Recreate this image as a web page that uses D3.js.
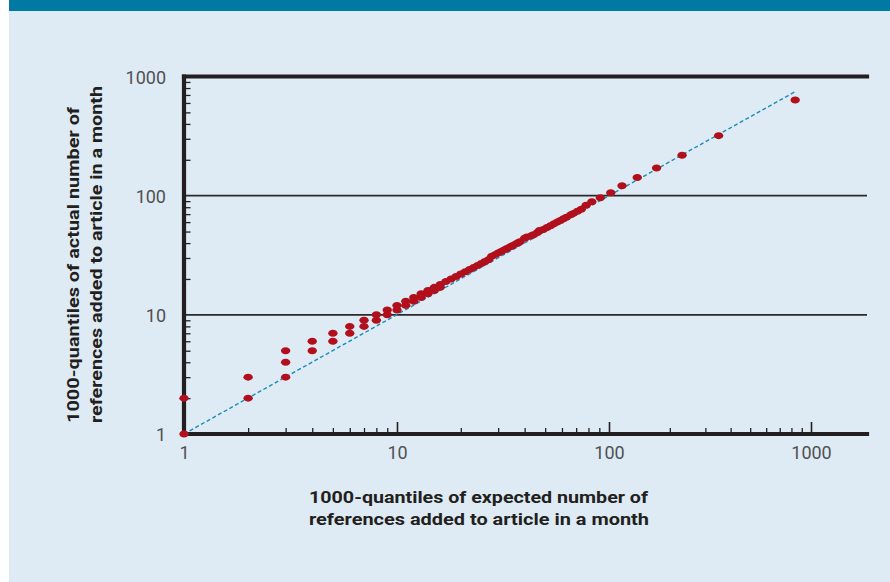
<!DOCTYPE html>
<html lang="en">
<head>
<meta charset="UTF-8">
<title>Quantile plot of references added</title>
<style>
    body { margin: 0; background: #ffffff; }
    svg { display: block; }
    .tick-label { font-family: Roboto, "Liberation Sans", sans-serif; font-weight: 400; font-size: 18px; fill: #505052; }
    .axis-title { font-family: Roboto, "Liberation Sans", sans-serif; font-weight: 700; font-size: 17px; fill: #231f20; }
</style>
</head>
<body>
<svg id="chart" width="890" height="582"></svg>

<script src="https://d3js.org/d3.v7.min.js"></script>
<script>
    // data: expected (x) vs actual (y) quantiles
    const expectedQ = [1, 1, 2, 2, 3, 3, 3, 4, 4, 5, 5, 6, 6, 7, 7, 8, 8, 9, 9, 10, 10,
        11, 11, 12, 12, 13, 13, 14, 14, 15, 15, 16, 16, 17, 18, 19, 20, 21, 22, 23, 24,
        25, 26, 27, 28, 29, 30, 31, 32, 33, 34, 35, 36, 37, 38, 40, 41, 43, 44, 46, 47,
        49, 51, 53, 55, 57, 59, 61, 63, 66, 68, 71, 74, 78, 83, 91, 102, 116, 138, 172,
        230, 349, 835];
    const actualQ = [1, 2, 2, 3, 3, 4, 5, 5, 6, 6, 7, 7, 8, 8, 9, 9, 10, 10, 11, 11, 12,
        12, 13, 13, 14, 14, 15, 15, 16, 16, 17, 17, 18, 19, 20, 21, 22, 23, 24, 25, 26,
        27, 28, 29, 31, 32, 33, 34, 35, 36, 37, 38, 39, 40, 41, 44, 45, 46, 47, 49, 51,
        52, 54, 56, 58, 60, 62, 64, 66, 69, 71, 74, 77, 83, 89, 96, 106, 121, 142, 171,
        218, 319, 634];

    // dashed reference line (as drawn)
    const refX = [1, 100, 840];
    const refY = [1, 100, 750];

    const xTickValues = [1, 10, 100, 1000];
    const yTickValues = [1, 10, 100, 1000];
    const gridValues = [10, 100];

    const xTitle = ["1000-quantiles of expected number of", "references added to article in a month"];
    const yTitle = ["1000-quantiles of actual number of", "references added to article in a month"];

    const svg = d3.select("#chart");

    // background
    svg.append("rect").attr("x", 9).attr("y", 0).attr("width", 881).attr("height", 582).attr("fill", "#deebf4");
    svg.append("rect").attr("x", 9).attr("y", 0).attr("width", 881).attr("height", 11).attr("fill", "#0079a3");

    // scales (the drawn decades are not quite equal on x)
    const x = d3.scaleLog()
        .domain([1, 10, 100, 1000, 1900])
        .range([184, 397, 609, 811, 867]);
    const y = d3.scaleLog()
        .domain([1, 1000])
        .range([434, 76.5]);

    const plotLeft = x(1), plotRight = x(1900), plotTop = y(1000), plotBottom = y(1);

    // grid lines at 10 and 100
    svg.append("g").selectAll("line")
        .data(gridValues)
        .join("line")
        .attr("x1", plotLeft).attr("x2", plotRight)
        .attr("y1", d => y(d)).attr("y2", d => y(d))
        .attr("stroke", "#2b2b2b").attr("stroke-width", 1.6);

    // minor ticks on y (inside)
    const yMinor = y.ticks().filter(d => !yTickValues.includes(d));
    svg.append("g")
        .attr("transform", `translate(${plotLeft},0)`)
        .call(d3.axisLeft(y).tickValues(yMinor).tickSize(-6.5).tickFormat(""))
        .call(g => g.select(".domain").remove())
        .call(g => g.selectAll("line").attr("stroke", "#231f20").attr("stroke-width", 1.3));

    // minor and major ticks on x (inside, upward)
    const xMinor = x.ticks().filter(d => d <= 1000 && !xTickValues.includes(d));
    svg.append("g")
        .attr("transform", `translate(0,${plotBottom})`)
        .call(d3.axisBottom(x).tickValues(xMinor).tickSize(-6).tickFormat(""))
        .call(g => g.select(".domain").remove())
        .call(g => g.selectAll("line").attr("stroke", "#231f20").attr("stroke-width", 1.3));
    svg.append("g")
        .attr("transform", `translate(0,${plotBottom})`)
        .call(d3.axisBottom(x).tickValues(xTickValues.slice(1)).tickSize(-12).tickFormat(""))
        .call(g => g.select(".domain").remove())
        .call(g => g.selectAll("line").attr("stroke", "#231f20").attr("stroke-width", 1.6));

    // tick labels
    svg.append("g")
        .attr("transform", `translate(0,${plotBottom})`)
        .call(d3.axisBottom(x).tickValues(xTickValues).tickSize(0).tickPadding(12).tickFormat(d3.format("d")))
        .call(g => g.select(".domain").remove())
        .call(g => g.selectAll("text").attr("class", "tick-label").attr("fill", null));

    svg.append("g")
        .attr("transform", `translate(${plotLeft},0)`)
        .call(d3.axisLeft(y).tickValues(yTickValues).tickSize(0).tickPadding(18).tickFormat(d3.format("d")))
        .call(g => g.select(".domain").remove())
        .call(g => g.selectAll("text").attr("class", "tick-label").attr("fill", null).attr("dy", "0.38em"));

    // remove the font attrs d3 sets on axis groups so the css applies
    svg.selectAll("g").attr("font-size", null).attr("font-family", null);

    // frame: left axis, top and bottom rules
    const frame = svg.append("g").attr("stroke", "#231f20").attr("stroke-width", 4.2).attr("stroke-linecap", "square");
    frame.append("line").attr("x1", plotLeft).attr("x2", plotRight).attr("y1", plotTop).attr("y2", plotTop);
    frame.append("line").attr("x1", plotLeft).attr("x2", plotRight).attr("y1", plotBottom).attr("y2", plotBottom);
    frame.append("line").attr("x1", plotLeft).attr("x2", plotLeft).attr("y1", plotTop).attr("y2", plotBottom);

    // dashed reference line
    const refLine = d3.line().x(d => x(d[0])).y(d => y(d[1]));
    svg.append("path")
        .datum(refX.map((v, i) => [v, refY[i]]))
        .attr("d", refLine)
        .attr("fill", "none")
        .attr("stroke", "#1a8cba")
        .attr("stroke-width", 1.4)
        .attr("stroke-dasharray", "4,2.5");

    // points
    svg.append("g").selectAll("ellipse")
        .data(expectedQ.map((v, i) => ({ ex: v, ac: actualQ[i] })))
        .join("ellipse")
        .attr("cx", d => x(d.ex))
        .attr("cy", d => y(d.ac))
        .attr("rx", 4.7)
        .attr("ry", 3.5)
        .attr("fill", "#b10f1b");

    // axis titles
    svg.selectAll(".xt")
        .data(xTitle)
        .join("text")
        .attr("class", "axis-title")
        .attr("x", 309)
        .attr("y", (d, i) => 503 + i * 22)
        .attr("textLength", (d, i) => i === 0 ? 339 : 340)
        .attr("lengthAdjust", "spacingAndGlyphs")
        .text(d => d);

    svg.selectAll(".yt")
        .data(yTitle)
        .join("text")
        .attr("class", "axis-title")
        .attr("transform", (d, i) => `translate(${79 + i * 23},423) rotate(-90)`)
        .attr("textLength", (d, i) => i === 0 ? 316 : 337)
        .attr("lengthAdjust", "spacingAndGlyphs")
        .text(d => d);
</script>
</body>
</html>
